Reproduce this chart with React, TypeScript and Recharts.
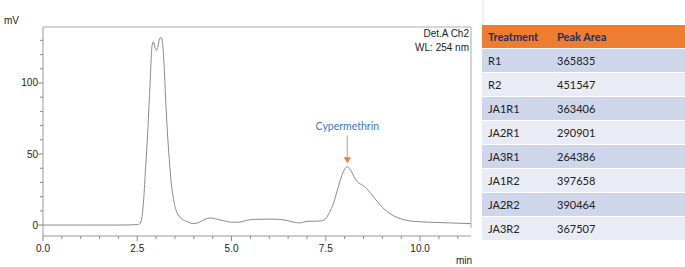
import React from 'react';
import { LineChart, Line, XAxis, YAxis, ReferenceDot } from 'recharts';

const times = [0, 1, 2, 2.5, 2.57, 2.62, 2.67, 2.72, 2.78, 2.84, 2.89, 2.93, 2.97, 3.01, 3.05, 3.09, 3.13, 3.17, 3.21, 3.25, 3.3, 3.35, 3.4, 3.45, 3.5, 3.55, 3.63, 3.75, 3.85, 4.0, 4.15, 4.3, 4.45, 4.6, 4.8, 5.0, 5.2, 5.4, 5.6, 6.0, 6.3, 6.5, 6.7, 6.8, 7.0, 7.3, 7.45, 7.6, 7.7, 7.8, 7.9, 8.0, 8.07, 8.15, 8.25, 8.35, 8.45, 8.55, 8.7, 8.85, 9.0, 9.15, 9.3, 9.5, 9.7, 10.0, 10.5, 11.0, 11.35];
const signal = [0, 0, 0, 0.3, 1, 5, 18, 40, 67, 100, 126, 129, 125, 123, 126, 131, 132, 128, 113, 90, 65, 46, 30, 20, 13, 9, 5.6, 3.2, 2, 1, 2, 4.2, 5, 4.2, 3, 2, 2, 3.3, 4, 4.2, 4, 3, 1.8, 1.5, 2.6, 2.8, 3.5, 9, 15, 24, 33, 39.5, 41, 39, 34, 30, 28.5, 26.5, 22, 17, 12.5, 9, 6.5, 4.3, 3, 2.3, 1.8, 1.3, 1];

const xMajor = [0, 2.5, 5, 7.5, 10];
const xTicks = [0, 0.5, 1, 1.5, 2, 2.5, 3, 3.5, 4, 4.5, 5, 5.5, 6, 6.5, 7, 7.5, 8, 8.5, 9, 9.5, 10, 10.5, 11];
const yMajor = [0, 50, 100];
const yTicks = [0, 10, 20, 30, 40, 50, 60, 70, 80, 90, 100, 110, 120, 130];

const treatments = ['R1', 'R2', 'JA1R1', 'JA2R1', 'JA3R1', 'JA1R2', 'JA2R2', 'JA3R2'];
const peakAreas = [365835, 451547, 363406, 290901, 264386, 397658, 390464, 367507];

const peakLabel = 'Cypermethrin';
const peakTime = 8.07;
const peakValue = 43.5;

const data = times.map((t, i) => ({ t, v: signal[i] }));

const axisFont = '"Liberation Sans", Arial, sans-serif';

const XTick = (props: any) => {
  const { x, y, payload } = props;
  const major = xMajor.includes(payload.value);
  return (
    <g>
      <line x1={x} x2={x} y1={y} y2={y + (major ? 5 : 3)} stroke="#888" strokeWidth={1} />
      {major && (
        <text x={x} y={y + 16} textAnchor="middle" fontSize={10} fill="#222" fontFamily={axisFont}>
          {payload.value.toFixed(1)}
        </text>
      )}
    </g>
  );
};

const YTick = (props: any) => {
  const { x, y, payload } = props;
  const major = yMajor.includes(payload.value);
  return (
    <g>
      <line x1={x - (major ? 5 : 3)} x2={x} y1={y} y2={y} stroke="#888" strokeWidth={1} />
      {major && (
        <text x={x - 5} y={y + 3.5} textAnchor="end" fontSize={10} fill="#222" fontFamily={axisFont}>
          {payload.value}
        </text>
      )}
    </g>
  );
};

const Arrow = (props: any) => {
  const { cx, cy } = props;
  return (
    <g>
      <line x1={cx} x2={cx} y1={cy - 28} y2={cy - 5} stroke="#F4A070" strokeWidth={1.2} />
      <path d={`M${cx - 3.5},${cy - 6} L${cx + 3.5},${cy - 6} L${cx},${cy} Z`} fill="#ED7D31" />
      <text x={cx} y={cy - 33} textAnchor="middle" fontSize={10.5} fill="#4472C4" fontFamily="Lato, sans-serif">
        {peakLabel}
      </text>
    </g>
  );
};

export default function App() {
  const L = 43, T = 27, R = 471, B = 236;
  const yw = 40, xh = 30;
  return (
    <div style={{ position: 'absolute', left: 0, top: 0, width: 685, height: 267, background: '#fff' }}>
      <LineChart width={685} height={267} data={data} margin={{ left: L - yw, top: T, right: 685 - R, bottom: 267 - B - xh }}>
        <XAxis
          dataKey="t"
          type="number"
          domain={[0, 11.35]}
          ticks={xTicks}
          interval={0}
          tick={<XTick />}
          tickLine={false}
          tickSize={0}
          tickMargin={0}
          height={xh}
          stroke="#999"
          allowDataOverflow
        />
        <YAxis
          type="number"
          domain={[-7.7, 139.4]}
          ticks={yTicks}
          interval={0}
          tick={<YTick />}
          tickLine={false}
          tickSize={0}
          tickMargin={0}
          width={yw}
          stroke="#999"
          allowDataOverflow
        />
        <Line type="monotone" dataKey="v" stroke="#8a8a8a" strokeWidth={1} dot={false} isAnimationActive={false} />
        <ReferenceDot x={peakTime} y={peakValue} shape={<Arrow />} />
      </LineChart>
      <svg width={685} height={267} style={{ position: 'absolute', left: 0, top: 0, pointerEvents: 'none' }}>
        <line x1={L} x2={R} y1={T} y2={T} stroke="#aaa" strokeWidth={1} />
        <line x1={R} x2={R} y1={T} y2={228} stroke="#aaa" strokeWidth={1} />
        <text x={4} y={24} fontSize={10} fill="#222" fontFamily={axisFont}>mV</text>
        <text x={472} y={264} textAnchor="end" fontSize={10} fill="#222" fontFamily={axisFont}>min</text>
        <text x={469} y={37} textAnchor="end" fontSize={10} fill="#222" fontFamily={axisFont}>Det.A Ch2</text>
        <text x={469} y={51} textAnchor="end" fontSize={10} fill="#222" fontFamily={axisFont}>WL: 254 nm</text>
        <line x1={483} x2={483} y1={0} y2={25} stroke="#e2e2e2" strokeWidth={1} />
      </svg>
      <div style={{ position: 'absolute', left: 482, top: 25, width: 203, fontFamily: 'Lato, sans-serif', fontSize: 11 }}>
        <div style={{ height: 23, background: '#ED7D31', display: 'flex', alignItems: 'center', color: '#1F2F5F', fontWeight: 700 }}>
          <span style={{ position: 'absolute', left: 6 }}>Treatment</span>
          <span style={{ position: 'absolute', left: 75 }}>Peak Area</span>
        </div>
        {treatments.map((tr, i) => (
          <div
            key={tr}
            style={{
              position: 'relative',
              height: 23,
              borderTop: '1px solid #fff',
              background: i % 2 === 0 ? '#CFD5EA' : '#E9EBF5',
              display: 'flex',
              alignItems: 'center',
              color: '#222',
            }}
          >
            <span style={{ position: 'absolute', left: 6 }}>{tr}</span>
            <span style={{ position: 'absolute', left: 75 }}>{peakAreas[i]}</span>
          </div>
        ))}
      </div>
    </div>
  );
}
